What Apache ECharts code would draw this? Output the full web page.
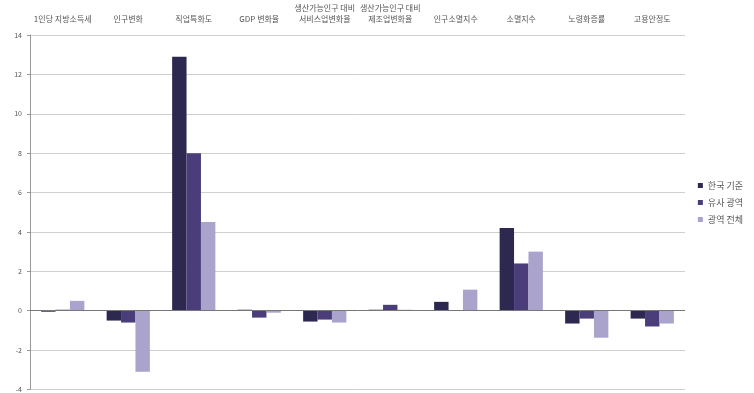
<!DOCTYPE html>
<html>
<head>
<meta charset="utf-8">
<script src="https://cdn.jsdelivr.net/npm/echarts@6/dist/echarts.min.js"></script>
<style>html,body{margin:0;padding:0;background:#fff}#c{width:754px;height:393px}</style>
</head>
<body>
<div id="c"></div>
<script>
const categories = ['1인당 지방소득세', '인구변화', '직업특화도', 'GDP 변화율', '생산가능인구 대비\n서비스업변화율', '생산가능인구 대비\n제조업변화율', '인구소멸지수', '소멸지수', '노령화증률', '고용안정도'];
const seriesNames = ['한국 기준', '유사 광역', '광역 전체'];
const korea = [-0.05, -0.5, 12.9, 0.05, -0.55, 0.05, 0.45, 4.2, -0.65, -0.4];
const similar = [0.05, -0.6, 8.0, -0.35, -0.45, 0.3, 0.02, 2.4, -0.4, -0.8];
const whole = [0.5, -3.1, 4.5, -0.1, -0.6, 0.05, 1.07, 3.0, -1.37, -0.65];
const yTicks = {min: -4, max: 14, interval: 2};
const colors = ['#2d2850', '#4a3d7a', '#aaa3cc'];

const chart = echarts.init(document.getElementById('c'), null, {renderer: 'canvas'});
chart.setOption({
  animation: false,
  color: colors,
  textStyle: {fontFamily: '"Noto Sans CJK KR", sans-serif'},
  grid: {left: 30, right: 69, top: 35, bottom: 3},
  legend: {
    orient: 'vertical', right: 6, top: 176,
    itemWidth: 5, itemHeight: 5, itemGap: 8, icon: 'rect',
    textStyle: {fontSize: 9, color: '#555'},
    data: seriesNames
  },
  xAxis: {
    type: 'category', position: 'top', data: categories,
    axisLine: {show: false}, axisTick: {show: false},
    axisLabel: {interval: 0, fontSize: 8, color: '#555', lineHeight: 11, margin: 11}
  },
  yAxis: {
    type: 'value', min: yTicks.min, max: yTicks.max, interval: yTicks.interval,
    axisLine: {show: true, lineStyle: {color: '#999'}},
    axisTick: {show: true, length: 3, lineStyle: {color: '#999'}},
    axisLabel: {fontSize: 7, color: '#555', margin: 8},
    splitLine: {lineStyle: {color: '#cfcfcf'}}
  },
  series: [
    {name: seriesNames[0], type: 'bar', data: korea, barGap: '0%', barCategoryGap: '34%',
     markLine: {silent: true, symbol: 'none', label: {show: false}, lineStyle: {color: '#777', type: 'solid', width: 1}, data: [{yAxis: 0}]}},
    {name: seriesNames[1], type: 'bar', data: similar, barGap: '0%', barCategoryGap: '34%'},
    {name: seriesNames[2], type: 'bar', data: whole, barGap: '0%', barCategoryGap: '34%'}
  ]
});
</script>
</body>
</html>
